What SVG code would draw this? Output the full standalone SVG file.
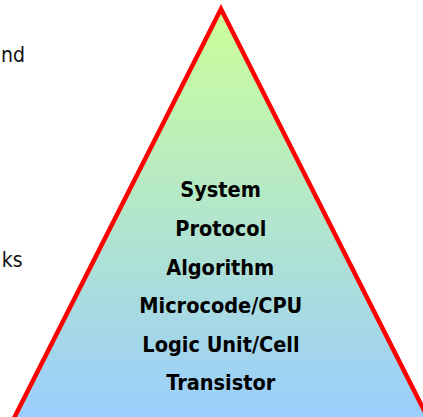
<svg xmlns="http://www.w3.org/2000/svg" width="423" height="417" viewBox="0 0 423 417">
  <defs>
    <linearGradient id="fillGrad" x1="0" y1="0" x2="0" y2="1">
      <stop offset="0" stop-color="#CCFF99"/>
      <stop offset="1" stop-color="#99CCFF"/>
    </linearGradient>
    <style>
      .level { font-family: "DejaVu Sans Condensed", "DejaVu Sans", Verdana, sans-serif; font-stretch: condensed; font-weight: bold; font-size: 21.5px; fill: #000; text-anchor: middle; }
      .side { font-family: "DejaVu Sans Condensed", "DejaVu Sans", sans-serif; font-stretch: condensed; font-size: 21px; fill: #111; text-anchor: end; }
    </style>
  </defs>
  <rect width="423" height="417" fill="#fff"/>

  <!-- side text, cut off at the left edge -->
  <g id="side-text">
    <text class="side" x="25" y="62">nd</text>
    <text class="side" x="22.5" y="267">ks</text>
  </g>

  <!-- abstraction pyramid -->
  <g id="pyramid">
    <polygon points="221,9 8,430 434,430" fill="url(#fillGrad)" stroke="#FF0000" stroke-width="4.5" stroke-linejoin="miter"/>
  </g>

  <g id="levels">
    <text id="system" class="level" x="220.5" y="197">System</text>
    <text id="protocol" class="level" x="220.8" y="236">Protocol</text>
    <text id="algorithm" class="level" x="220.2" y="274.5">Algorithm</text>
    <text id="microcode" class="level" x="220.8" y="313">Microcode/CPU</text>
    <text id="logic" class="level" x="221" y="352">Logic Unit/Cell</text>
    <text id="transistor" class="level" x="220.8" y="390">Transistor</text>
  </g>
</svg>
